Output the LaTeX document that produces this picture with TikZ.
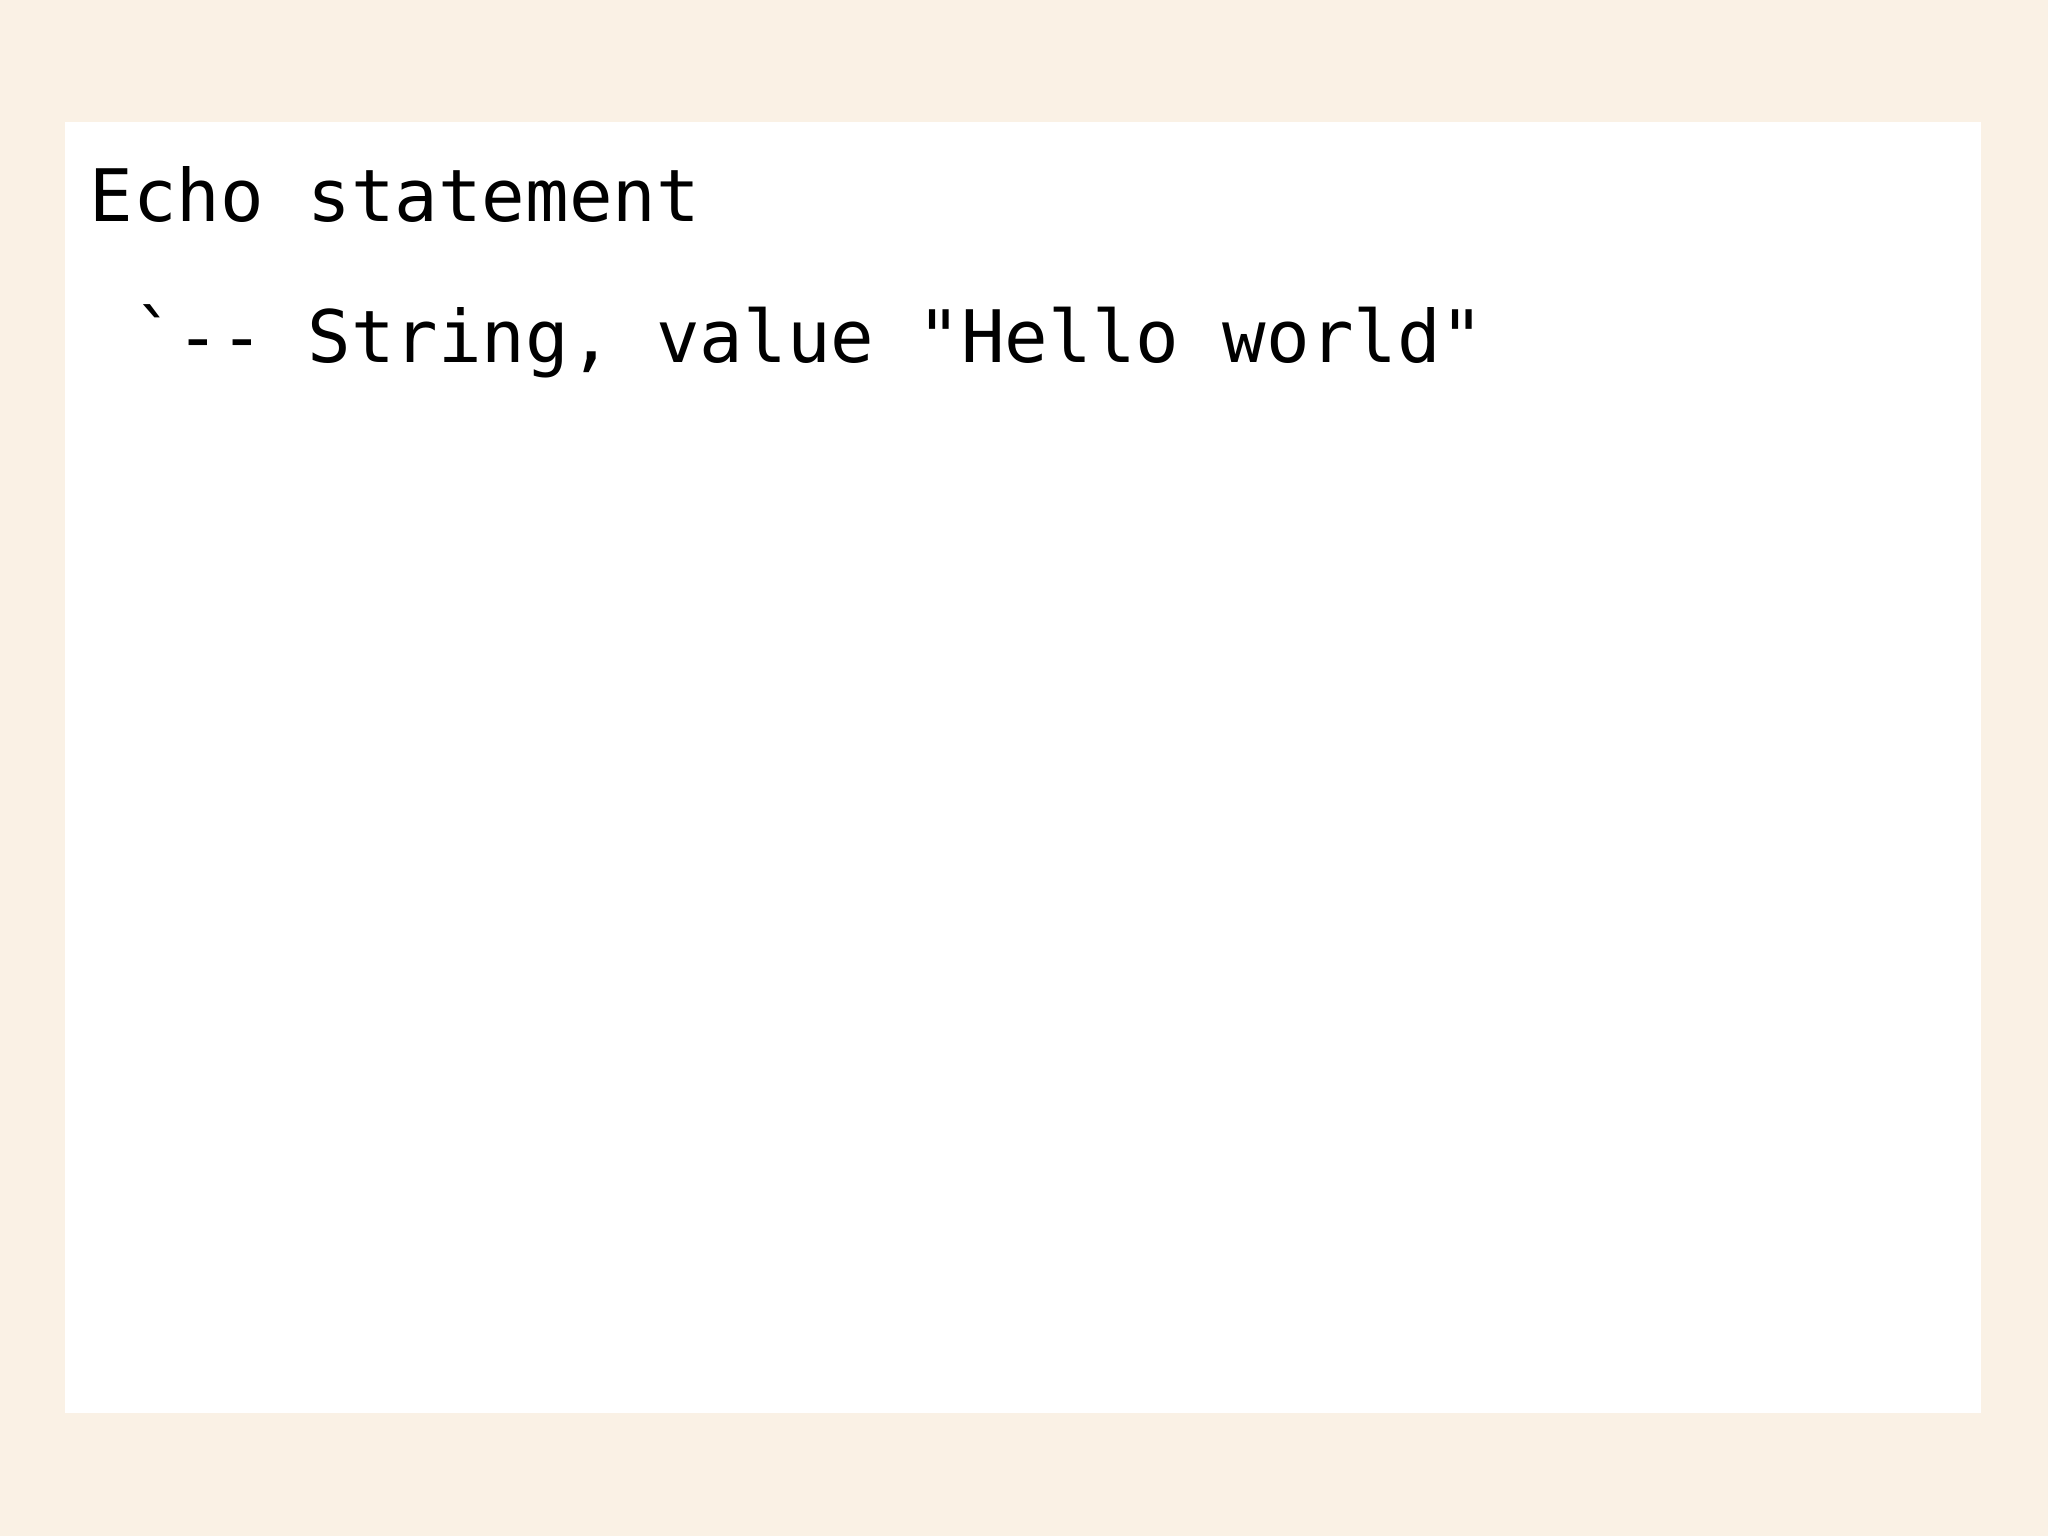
\documentclass[tikz,border=0pt]{standalone}
\usepackage{fontspec}
\setmonofont{DejaVu Sans Mono}
\definecolor{pagebg}{HTML}{FAF1E5}
\tikzset{
  codeline/.style={anchor=base west, inner sep=0pt, text=black,
    font=\ttfamily\fontsize{20.6}{24}\selectfont}
}
\begin{document}
\begin{tikzpicture}
\fill[pagebg] (0,0) rectangle (20.48,-15.36);
\useasboundingbox (0,0) rectangle (20.48,-15.36);
\fill[white] (0.65,-1.22) rectangle (19.81,-14.13);
\node[codeline] (l1) at (0.89,-2.22) {Echo statement};
\node[codeline] (l2) at (0.89,-3.63) {\ `-- String, value "Hello world"};
\end{tikzpicture}
\end{document}
